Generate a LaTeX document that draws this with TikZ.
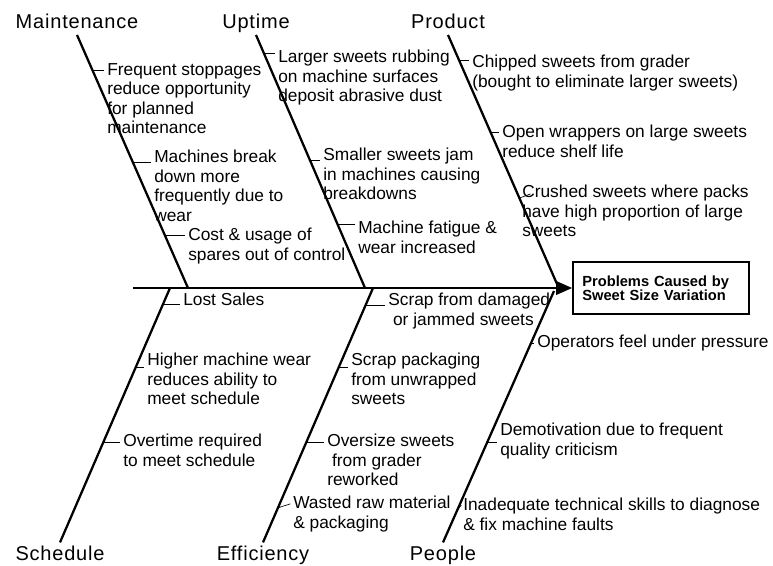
\documentclass[tikz,border=0pt]{standalone}
\usepackage{fontspec}
\setmainfont{Liberation Sans}
\newfontfamily\bonefont[LetterSpace=4]{Liberation Sans}
\usetikzlibrary{arrows.meta, positioning, calc}

\begin{document}
\begin{tikzpicture}[
    x=0.75pt, y=-0.75pt,
    bone/.style={line width=1.7pt},
    spine/.style={line width=1.9pt, -{Triangle[length=12pt, width=10pt]}},
    tick/.style={line width=0.5pt, shorten >=2pt},
    cause/.style={anchor=north west, inner sep=0pt, align=left,
        font=\fontsize{13}{14.6}\selectfont},
    category/.style={anchor=base, inner sep=2pt, text height=11pt, text depth=3pt,
        font=\bonefont\fontsize{15}{18}\selectfont},
    effect/.style={draw, line width=1.3pt, text width=118pt, align=left,
        minimum width=132pt, minimum height=39pt,
        font=\bfseries\fontsize{11}{10.5}\selectfont}
]
\useasboundingbox (0,0) rectangle (773,565);

% head and spine
\node[effect] (problem) at (661, 288) {Problems Caused by\\Sweet Size Variation};
\coordinate (tail) at (133, 288);
\draw[spine] (tail) -- (problem.west);

% categories
\node[category] (maint) at (77, 28) {Maintenance};
\node[category] (uptime) at (256, 28) {Uptime};
\node[category] (product) at (448, 28) {Product};
\node[category] (sched) at (60, 560) {Schedule};
\node[category] (effic) at (263, 560) {Efficiency};
\node[category] (people) at (443, 560) {People};

\coordinate (mhead) at (188, 288);
\coordinate (uhead) at (365, 288);
\coordinate (phead) at (557, 284);
\coordinate (shead) at (170, 288);
\coordinate (ehead) at (373, 288);
\coordinate (ohead) at (554, 291);

\draw[bone] (maint.south) -- (mhead);
\draw[bone] (uptime.south) -- (uhead);
\draw[bone] (product.south) -- (phead);
\draw[bone] (sched.north) -- (shead);
\draw[bone] (effic.north) -- (ehead);
\draw[bone] (people.north) -- (ohead);

% Maintenance
\node[cause] (mt1) at (107, 63) {Frequent stoppages\\reduce opportunity\\for planned\\maintenance};
\node[cause] (mt2) at (154, 150) {Machines break\\down more\\frequently due to\\wear};
\node[cause] (mt3) at (188, 228) {Cost \& usage of\\spares out of control};
\coordinate (m1) at ($(maint.south)!0.139!(mhead)$);
\coordinate (m2) at ($(maint.south)!0.503!(mhead)$);
\coordinate (m3) at ($(maint.south)!0.791!(mhead)$);
\draw[tick] (m1) -- (m1 -| mt1.west);
\draw[tick] (m2) -- (m2 -| mt2.west);
\draw[tick] (m3) -- (m3 -| mt3.west);

% Uptime
\node[cause] (ut1) at (278, 50) {Larger sweets rubbing\\on machine surfaces\\deposit abrasive dust};
\node[cause] (ut2) at (323, 148) {Smaller sweets jam\\in machines causing\\breakdowns};
\node[cause] (ut3) at (358, 221) {Machine fatigue \&\\wear increased};
\coordinate (u1) at ($(uptime.south)!0.072!(uhead)$);
\coordinate (u2) at ($(uptime.south)!0.495!(uhead)$);
\coordinate (u3) at ($(uptime.south)!0.747!(uhead)$);
\draw[tick] (u1) -- (u1 -| ut1.west);
\draw[tick] (u2) -- (u2 -| ut2.west);
\draw[tick] (u3) -- (u3 -| ut3.west);

% Product
\node[cause] (pt1) at (472, 55) {Chipped sweets from grader\\(bought to eliminate larger sweets)};
\node[cause] (pt2) at (502, 125) {Open wrappers on large sweets\\reduce shelf life};
\node[cause] (pt3) at (522, 185) {Crushed sweets where packs\\have high proportion of large\\sweets};
\coordinate (p1) at ($(product.south)!0.101!(phead)$);
\coordinate (p2) at ($(product.south)!0.390!(phead)$);
\coordinate (p3) at ($(product.south)!0.655!(phead)$);
\draw[tick] (p1) -- (p1 -| pt1.west);
\draw[tick] (p2) -- (p2 -| pt2.west);
\draw[tick] (p3) -- ($(pt3.north west)+(11,8)$);

% Schedule
\node[cause] (st1) at (183, 293) {Lost Sales};
\node[cause] (st2) at (147, 353) {Higher machine wear\\reduces ability to\\meet schedule};
\node[cause] (st3) at (123, 434) {Overtime required\\to meet schedule};
\coordinate (s1) at ($(shead)!0.063!(sched.north)$);
\coordinate (s2) at ($(shead)!0.310!(sched.north)$);
\coordinate (s3) at ($(shead)!0.605!(sched.north)$);
\draw[tick] (s1) -- (s1 -| st1.west);
\draw[tick] (s2) -- (s2 -| st2.west);
\draw[tick] (s3) -- (s3 -| st3.west);

% Efficiency
\node[cause] (et1) at (388, 293) {Scrap from damaged\\\ or jammed sweets};
\node[cause] (et2) at (351, 353) {Scrap packaging\\from unwrapped\\sweets};
\node[cause] (et3) at (327, 434) {Oversize sweets\\\ from grader\\reworked};
\node[cause] (et4) at (293, 496) {Wasted raw material\\\& packaging};
\coordinate (e1) at ($(ehead)!0.067!(effic.north)$);
\coordinate (e2) at ($(ehead)!0.310!(effic.north)$);
\coordinate (e3) at ($(ehead)!0.605!(effic.north)$);
\coordinate (e4) at ($(ehead)!0.864!(effic.north)$);
\draw[tick] (e1) -- (e1 -| et1.west);
\draw[tick] (e2) -- (e2 -| et2.west);
\draw[tick] (e3) -- (e3 -| et3.west);
\draw[tick] (e4) -- ($(et4.north west)+(0,7)$);

% People
\node[cause] (ot1) at (537, 335) {Operators feel under pressure};
\node[cause] (ot2) at (500, 423) {Demotivation due to frequent\\quality criticism};
\node[cause] (ot3) at (463, 498) {Inadequate technical skills to diagnose\\\& fix machine faults};
\coordinate (o1) at ($(ohead)!0.207!(people.north)$);
\coordinate (o2) at ($(ohead)!0.600!(people.north)$);
\coordinate (o3) at ($(ohead)!0.870!(people.north)$);
\draw[tick] (o1) -- (o1 -| ot1.west);
\draw[tick] (o2) -- (o2 -| ot2.west);
\draw[tick] (o3) -- ($(ot3.north west)+(0,5)$);

\end{tikzpicture}
\end{document}
